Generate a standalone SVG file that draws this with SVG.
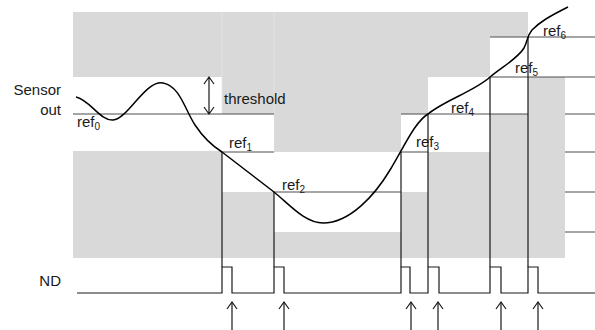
<svg xmlns="http://www.w3.org/2000/svg" width="595" height="330" viewBox="0 0 595 330">
<style>
.g{fill:#d9d9d9}
.seam{stroke:#e6e6e6;stroke-width:0.8;fill:none}
.h{stroke:#4d4d4d;stroke-width:1;fill:none}
.v{stroke:#1a1a1a;stroke-width:1.2;fill:none}
.t{font-family:"Liberation Sans",Arial,sans-serif;font-size:15px;fill:#1a1a1a}
.s{font-size:10px}
.ar{stroke:#1a1a1a;stroke-width:1.2;fill:none}
</style>
<rect width="595" height="330" fill="#ffffff"/>
<g id="bands">
<rect class="g" x="73" y="12" width="149" height="65"/>
<rect class="g" x="73" y="151" width="149" height="107"/>
<rect class="g" x="222" y="12" width="52" height="102"/>
<rect class="g" x="222" y="192" width="52" height="66"/>
<rect class="g" x="274" y="12" width="127" height="140"/>
<rect class="g" x="274" y="232" width="127" height="26"/>
<rect class="g" x="401" y="12" width="27" height="102"/>
<rect class="g" x="401" y="192" width="27" height="66"/>
<rect class="g" x="428" y="12" width="62" height="65"/>
<rect class="g" x="428" y="152" width="62" height="106"/>
<rect class="g" x="490" y="12" width="38" height="25"/>
<rect class="g" x="490" y="114" width="38" height="144"/>
<rect class="g" x="528" y="77" width="37" height="181"/>
<path class="seam" d="M222 12V114M274 12V114"/>
</g>
<g id="connectors">
<path class="h" d="M73 114H274M222 152H274M274 192H401M401 152H428M401 114H528M490 77H595M490 37H595M565 114H595M565 152H595M565 192H595M565 232H595"/>
<path class="v" d="M222 152V267M274 192V267M401 152V267M428 114V267M490 77V267M528 37V267"/>
<path class="v" d="M77 293H222V267H232V293H274V267H284V293H401V267H410V293H428V267H439V293H490V267H501V293H528V267H538V293H595"/>
<path class="ar" d="M209 77V114M204 84L209 77L214 84M204 107L209 114L214 107"/>
<path class="ar" d="M232 330V302M284 330V302M411 330V302M438 330V302M501 330V302M538 330V302"/>
<path class="ar" d="M227 309L232 302L237 309M279 309L284 302L289 309M406 309L411 302L416 309M433 309L438 302L443 309M496 309L501 302L506 309M533 309L538 302L543 309"/>
</g>
<g id="curve">
<path d="M76 97C90 100 100 121 113 120C128 119 145 80 163 83C180 86 185 110 195 125C205 140 214 147 222 152L274 192C290 205 305 223 323 223C350 223 375 195 390 170C405 145 415 122 428 114C445 100 475 91 490 77C505 65 518 58 524 48C528 40 527 36 532 30C540 22 548 17 568 7" fill="none" stroke="#000" stroke-width="1.5"/>
</g>
<g id="labels">
<text class="t" x="61" y="95" text-anchor="end">Sensor</text>
<text class="t" x="61" y="115" text-anchor="end">out</text>
<text class="t" x="224" y="104">threshold</text>
<text class="t" x="61" y="286" text-anchor="end">ND</text>
<text class="t" x="77" y="127">ref<tspan class="s" dy="3">0</tspan></text>
<text class="t" x="229" y="148">ref<tspan class="s" dy="3">1</tspan></text>
<text class="t" x="282" y="190">ref<tspan class="s" dy="3">2</tspan></text>
<text class="t" x="416" y="147">ref<tspan class="s" dy="3">3</tspan></text>
<text class="t" x="451" y="113">ref<tspan class="s" dy="3">4</tspan></text>
<text class="t" x="515" y="73">ref<tspan class="s" dy="3">5</tspan></text>
<text class="t" x="543" y="36">ref<tspan class="s" dy="3">6</tspan></text>
</g>
</svg>
